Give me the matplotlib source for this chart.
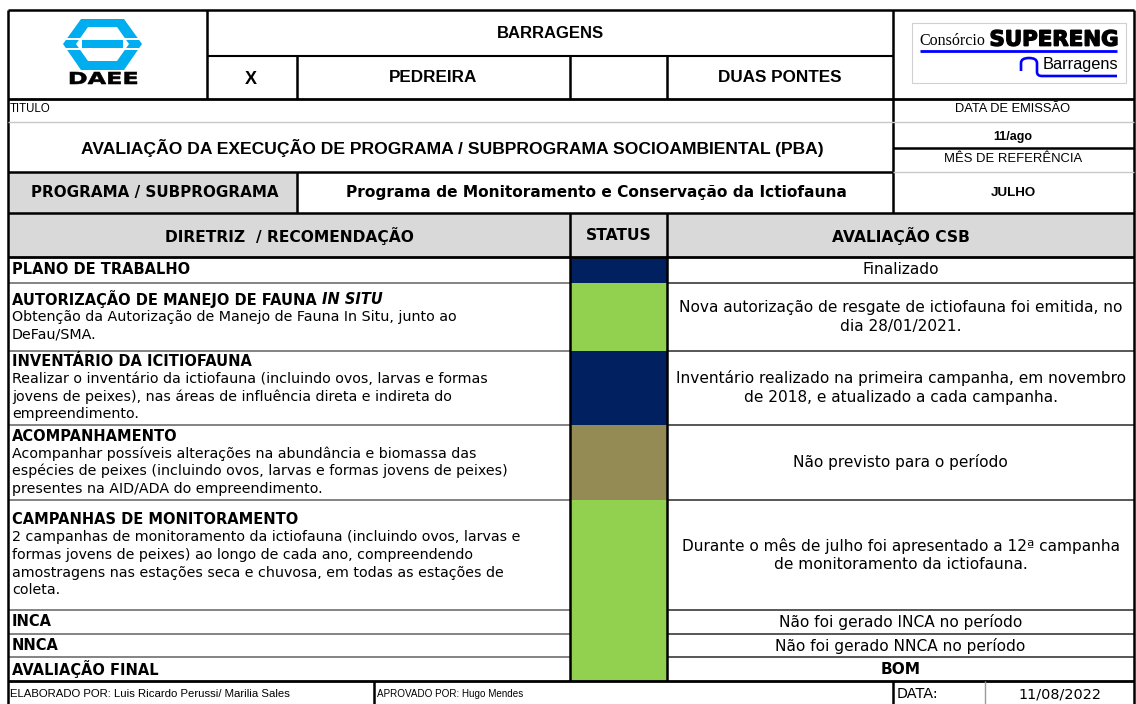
import matplotlib.pyplot as plt
from matplotlib.patches import Rectangle, Polygon, PathPatch
from matplotlib.path import Path
from matplotlib.textpath import TextPath
from matplotlib.font_manager import FontProperties
from matplotlib.transforms import Affine2D

# ---- texts / values read from the form ----
dam_title = "BARRAGENS"
dam_mark = "X"
dam_names = ["PEDREIRA", "DUAS PONTES"]
doc_label = "TITULO"
doc_title = "AVALIAÇÃO DA EXECUÇÃO DE PROGRAMA / SUBPROGRAMA SOCIOAMBIENTAL (PBA)"
issue_label = "DATA DE EMISSÃO"
issue_date = "11/ago"
ref_label = "MÊS DE REFERÊNCIA"
ref_month = "JULHO"
program_label = "PROGRAMA / SUBPROGRAMA"
program_name = "Programa de Monitoramento e Conservação da Ictiofauna"
col_headers = ["DIRETRIZ  / RECOMENDAÇÃO", "STATUS", "AVALIAÇÃO CSB"]

row_titles = ["PLANO DE TRABALHO",
              "AUTORIZAÇÃO DE MANEJO DE FAUNA ",
              "INVENTÁRIO DA ICITIOFAUNA",
              "ACOMPANHAMENTO",
              "CAMPANHAS DE MONITORAMENTO",
              "INCA",
              "NNCA",
              "AVALIAÇÃO FINAL"]
row_title_italic = ["", "IN SITU", "", "", "", "", "", ""]
row_details = [
    [],
    ["Obtenção da Autorização de Manejo de Fauna In Situ, junto ao",
     "DeFau/SMA."],
    ["Realizar o inventário da ictiofauna (incluindo ovos, larvas e formas",
     "jovens de peixes), nas áreas de influência direta e indireta do",
     "empreendimento."],
    ["Acompanhar possíveis alterações na abundância e biomassa das",
     "espécies de peixes (incluindo ovos, larvas e formas jovens de peixes)",
     "presentes na AID/ADA do empreendimento."],
    ["2 campanhas de monitoramento da ictiofauna (incluindo ovos, larvas e",
     "formas jovens de peixes) ao longo de cada ano, compreendendo",
     "amostragens nas estações seca e chuvosa, em todas as estações de",
     "coleta."],
    [], [], []]
status_colors = ["#002060", "#92D050", "#002060", "#948A54",
                 "#92D050", "#92D050", "#92D050", "#92D050"]
evaluations = [
    ["Finalizado"],
    ["Nova autorização de resgate de ictiofauna foi emitida, no",
     "dia 28/01/2021."],
    ["Inventário realizado na primeira campanha, em novembro",
     "de 2018, e atualizado a cada campanha."],
    ["Não previsto para o período"],
    ["Durante o mês de julho foi apresentado a 12ª campanha",
     "de monitoramento da ictiofauna."],
    ["Não foi gerado INCA no período"],
    ["Não foi gerado NNCA no período"],
    ["BOM"]]

footer_made = "ELABORADO POR: Luis Ricardo Perussi/ Marilia Sales"
footer_approved = "APROVADO POR: Hugo Mendes"
footer_date_label = "DATA:"
footer_date = "11/08/2022"

# ---- layout (pixels) ----
W, H = 1136, 704
L, R = 8, 1134
row_edges = [257, 283, 351, 425, 500, 610, 634, 657, 681]
C1, C2 = 570, 667
GRAY = "#D9D9D9"
ARIAL = ["Liberation Sans", "DejaVu Sans"]
TAHOMA = ["DejaVu Sans"]

fig = plt.figure(figsize=(W / 100, H / 100), dpi=100)
ax = fig.add_axes([0, 0, 1, 1])
ax.set_xlim(0, W)
ax.set_ylim(H, 0)
ax.axis("off")


def box(x0, y0, x1, y1, fc):
    ax.add_patch(Rectangle((x0, y0), x1 - x0, y1 - y0, facecolor=fc, edgecolor="none", zorder=1))


def hl(y, x0, x1, lw=1.8, c="black"):
    ax.plot([x0, x1], [y, y], color=c, lw=lw, solid_capstyle="butt", zorder=3)


def vl(x, y0, y1, lw=1.8, c="black"):
    ax.plot([x, x], [y0, y1], color=c, lw=lw, solid_capstyle="butt", zorder=3)


def txt(x, y, s, size, fam=TAHOMA, ha="center", weight="normal", **kw):
    return ax.text(x, y, s, fontsize=size, family=fam, ha=ha, va="center",
                   fontweight=weight, zorder=4, **kw)


def fit_text(s, x0, x1, ytop, ybot, prop, color="black", stroke=0.0):
    # glyph outlines stretched to a given pixel box (used for logo lettering)
    tp = TextPath((0, 0), s, size=10, prop=prop)
    bb = tp.get_extents()
    tr = (Affine2D().translate(-bb.x0, -bb.y0)
          .scale((x1 - x0) / bb.width, -(ybot - ytop) / bb.height)
          .translate(x0, ybot))
    ax.add_patch(PathPatch(tr.transform_path(tp), fc=color, ec=color, lw=stroke, zorder=4))


# ---- DAEE logo ----
cyan = "#00AEEF"
ax.add_patch(Polygon([(81, 19), (124, 19), (142, 44), (124, 70), (81, 70), (63, 44)],
                     closed=True, fc=cyan, ec="none", zorder=2))
ax.add_patch(Polygon([(88, 27), (117, 27), (129, 44), (117, 61), (88, 61), (76, 44)],
                     closed=True, fc="white", ec="none", zorder=2))
ax.add_patch(Rectangle((82, 40), 41, 8, fc=cyan, ec="none", zorder=2))
for ys in (38, 48):
    ax.add_patch(Rectangle((60, ys), 85, 2.3, fc="white", ec="none", zorder=2))
fit_text("DAEE", 70, 137, 72, 84, FontProperties(family="DejaVu Sans", weight="bold"), stroke=0.4)

# ---- Supereng logo ----
ax.add_patch(Rectangle((912, 23), 214, 60, fc="white", ec="#D0D0D0", lw=0.8, zorder=2))
ax.text(919, 41, "Consórcio", fontsize=11.5, family=["Liberation Serif", "DejaVu Serif"],
        ha="left", va="center", zorder=4)
fit_text("SUPERENG", 991, 1117, 30, 46, FontProperties(family="DejaVu Sans", weight="bold"),
         stroke=1.0)
hl(51, 920, 1117, lw=2, c="#0000FF")
curve = Path([(1021, 71), (1021, 63), (1021, 58), (1029, 58), (1037, 58), (1037, 63),
              (1037, 72), (1037, 76), (1042, 76), (1117, 76)],
             [Path.MOVETO, Path.LINETO, Path.CURVE3, Path.CURVE3, Path.CURVE3, Path.CURVE3,
              Path.LINETO, Path.CURVE3, Path.CURVE3, Path.LINETO])
ax.add_patch(PathPatch(curve, fc="none", ec="#0000FF", lw=1.9, zorder=3))
txt(1080, 65, "Barragens", 11.8, fam=ARIAL)

# ---- top header ----
txt(550, 33, dam_title, 12, fam=ARIAL, weight="bold")
txt(251, 79, dam_mark, 13, fam=ARIAL, weight="bold")
txt(433, 78, dam_names[0], 12.3, fam=ARIAL, weight="bold")
txt(780, 78, dam_names[1], 12.3, fam=ARIAL, weight="bold")

txt(10, 109, doc_label, 8.3, fam=ARIAL, ha="left")
txt(1013, 109, issue_label, 9.3, fam=ARIAL)
txt(452, 148, doc_title, 12.6, fam=ARIAL, weight="bold")
txt(1013, 137, issue_date, 9, fam=ARIAL, weight="bold")
txt(1013, 159, ref_label, 9.4, fam=ARIAL)

box(L, 172, 297, 213, GRAY)
txt(155, 193, program_label, 10.9, weight="bold")
txt(596, 193, program_name, 11.1, weight="bold")
txt(1013, 193, ref_month, 9.6, fam=ARIAL, weight="bold")

box(L, 213, R, 257, GRAY)
txt((L + C1) / 2, 236, col_headers[0], 11.2, weight="bold")
txt((C1 + C2) / 2, 236, col_headers[1], 11.2, weight="bold")
txt((C2 + R) / 2, 236, col_headers[2], 11.2, weight="bold")

# ---- body rows ----
for i, title in enumerate(row_titles):
    y0, y1 = row_edges[i], row_edges[i + 1]
    box(C1, y0, C2, y1, status_colors[i])
    n = 1 + len(row_details[i])
    ytop = (y0 + y1) / 2 - (n - 1) * 17.5 / 2
    t = txt(12, ytop, title, 10.5, ha="left", weight="bold")
    if row_title_italic[i]:
        ax.annotate(row_title_italic[i], xy=(1, 0.5), xycoords=t, ha="left", va="center",
                    fontsize=10.5, family=TAHOMA, fontweight="bold", fontstyle="italic", zorder=4)
    for k, line in enumerate(row_details[i]):
        txt(12, ytop + 17.5 * (k + 1), line, 10.3, ha="left")
    ev = evaluations[i]
    yc = (y0 + y1) / 2 - (len(ev) - 1) * 19 / 2
    for k, line in enumerate(ev):
        txt((C2 + R) / 2, yc + 19 * k, line, 11.1,
            weight="bold" if title == "AVALIAÇÃO FINAL" else "normal")
    if i < len(row_titles) - 1:
        hl(y1, L, C1, lw=1.2, c="#6E6E6E")
        hl(y1, C2, R, lw=1.2, c="#3A3A3A")

# ---- footer ----
txt(10, 694, footer_made, 8.2, fam=ARIAL, ha="left")
txt(377, 694, footer_approved, 7.1, fam=ARIAL, ha="left")
txt(897, 694, footer_date_label, 10.4, ha="left")
txt(1060, 694, footer_date, 10.4)

# ---- grid lines ----
hl(10, L, R)
vl(L, 10, H)
vl(R, 10, H)
vl(207, 10, 99)
hl(56, 207, 893, lw=1.5)
for x in (297, 570, 667):
    vl(x, 56, 99)
vl(893, 10, 213)
hl(99, L, R, lw=2)
hl(122, L, R, lw=1, c="#C8C8C8")
hl(148, 893, R, lw=1.8)
hl(172, L, 893, lw=1.8)
hl(172, 893, R, lw=1, c="#C8C8C8")
vl(297, 172, 213)
hl(213, L, R, lw=1.8)
hl(257, L, R, lw=2)
vl(C1, 213, 681)
vl(C2, 213, 681)
hl(681, L, R, lw=2)
vl(374, 681, H)
vl(893, 681, H)
vl(985, 681, H, lw=1, c="#9A9A9A")

fig.savefig("out.png", dpi=100)
